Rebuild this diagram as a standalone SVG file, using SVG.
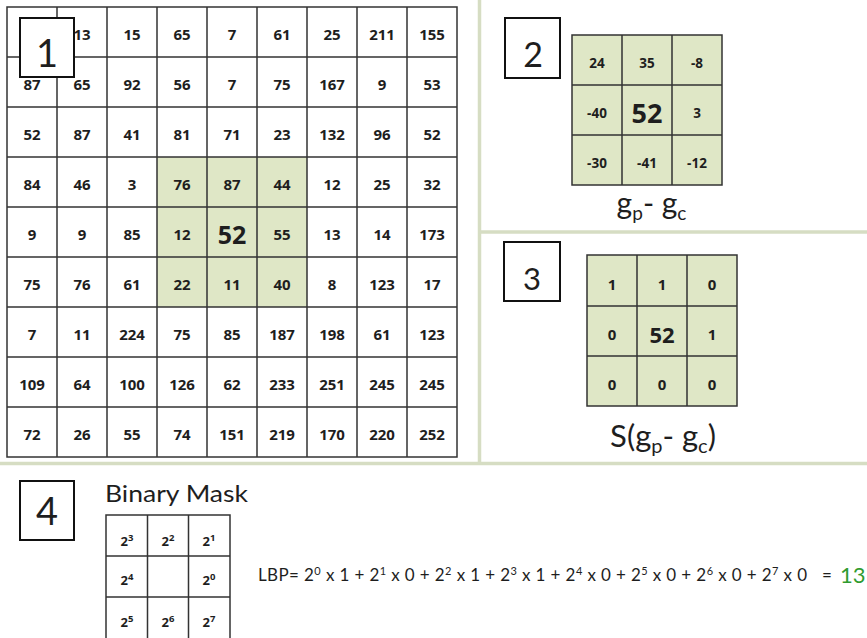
<svg xmlns="http://www.w3.org/2000/svg" width="867" height="638" viewBox="0 0 867 638">
<style>
text{font-family:Lato,"Open Sans","Liberation Sans",sans-serif;fill:#1e1e1e}
.n,.n2,.n3,.m,.big{font-family:"Open Sans",Lato,"Liberation Sans",sans-serif;font-weight:bold;text-anchor:middle}
.n{font-size:15px}
.n2{font-size:13.5px}
.n3{font-size:15px}
.m{font-size:13px}
.g{stroke:#333;stroke-width:1.5;fill:none}
.box{fill:#fff;stroke:#111;stroke-width:2}
.lbl{font-size:38px;text-anchor:middle}
.sep{stroke:#d6ddc3;stroke-width:3.5}
.sup{font-size:9.5px}
</style>
<rect width="867" height="638" fill="#fff"/>
<g id="separators">
<line class="sep" x1="479.5" y1="0" x2="479.5" y2="463"/>
<line class="sep" x1="0" y1="463.5" x2="867" y2="463.5"/>
<line class="sep" x1="479.5" y1="232" x2="867" y2="232"/>
</g>
<g id="panel1">
<rect x="157" y="157" width="150" height="150" fill="#dfe7c6"/>
<rect class="g" x="7" y="7" width="450" height="450"/>
<path class="g" d="M57 7V457M107 7V457M157 7V457M207 7V457M257 7V457M307 7V457M357 7V457M407 7V457M7 57H457M7 107H457M7 157H457M7 207H457M7 257H457M7 307H457M7 357H457M7 407H457"/>
<g>
<text class="n" x="82" y="39.5">13</text><text class="n" x="132" y="39.5">15</text><text class="n" x="182" y="39.5">65</text><text class="n" x="232" y="39.5">7</text><text class="n" x="282" y="39.5">61</text><text class="n" x="332" y="39.5">25</text><text class="n" x="382" y="39.5">211</text><text class="n" x="432" y="39.5">155</text>
<text class="n" x="32" y="89.5">87</text><text class="n" x="82" y="89.5">65</text><text class="n" x="132" y="89.5">92</text><text class="n" x="182" y="89.5">56</text><text class="n" x="232" y="89.5">7</text><text class="n" x="282" y="89.5">75</text><text class="n" x="332" y="89.5">167</text><text class="n" x="382" y="89.5">9</text><text class="n" x="432" y="89.5">53</text>
<text class="n" x="32" y="139.5">52</text><text class="n" x="82" y="139.5">87</text><text class="n" x="132" y="139.5">41</text><text class="n" x="182" y="139.5">81</text><text class="n" x="232" y="139.5">71</text><text class="n" x="282" y="139.5">23</text><text class="n" x="332" y="139.5">132</text><text class="n" x="382" y="139.5">96</text><text class="n" x="432" y="139.5">52</text>
<text class="n" x="32" y="189.5">84</text><text class="n" x="82" y="189.5">46</text><text class="n" x="132" y="189.5">3</text><text class="n" x="182" y="189.5">76</text><text class="n" x="232" y="189.5">87</text><text class="n" x="282" y="189.5">44</text><text class="n" x="332" y="189.5">12</text><text class="n" x="382" y="189.5">25</text><text class="n" x="432" y="189.5">32</text>
<text class="n" x="32" y="239.5">9</text><text class="n" x="82" y="239.5">9</text><text class="n" x="132" y="239.5">85</text><text class="n" x="182" y="239.5">12</text><text class="big" x="232" y="244" font-size="25">52</text><text class="n" x="282" y="239.5">55</text><text class="n" x="332" y="239.5">13</text><text class="n" x="382" y="239.5">14</text><text class="n" x="432" y="239.5">173</text>
<text class="n" x="32" y="289.5">75</text><text class="n" x="82" y="289.5">76</text><text class="n" x="132" y="289.5">61</text><text class="n" x="182" y="289.5">22</text><text class="n" x="232" y="289.5">11</text><text class="n" x="282" y="289.5">40</text><text class="n" x="332" y="289.5">8</text><text class="n" x="382" y="289.5">123</text><text class="n" x="432" y="289.5">17</text>
<text class="n" x="32" y="339.5">7</text><text class="n" x="82" y="339.5">11</text><text class="n" x="132" y="339.5">224</text><text class="n" x="182" y="339.5">75</text><text class="n" x="232" y="339.5">85</text><text class="n" x="282" y="339.5">187</text><text class="n" x="332" y="339.5">198</text><text class="n" x="382" y="339.5">61</text><text class="n" x="432" y="339.5">123</text>
<text class="n" x="32" y="389.5">109</text><text class="n" x="82" y="389.5">64</text><text class="n" x="132" y="389.5">100</text><text class="n" x="182" y="389.5">126</text><text class="n" x="232" y="389.5">62</text><text class="n" x="282" y="389.5">233</text><text class="n" x="332" y="389.5">251</text><text class="n" x="382" y="389.5">245</text><text class="n" x="432" y="389.5">245</text>
<text class="n" x="32" y="439.5">72</text><text class="n" x="82" y="439.5">26</text><text class="n" x="132" y="439.5">55</text><text class="n" x="182" y="439.5">74</text><text class="n" x="232" y="439.5">151</text><text class="n" x="282" y="439.5">219</text><text class="n" x="332" y="439.5">170</text><text class="n" x="382" y="439.5">220</text><text class="n" x="432" y="439.5">252</text>
</g>
<rect class="box" x="20" y="18" width="54" height="59"/>
<text class="lbl" x="47" y="67" font-size="40">1</text>
</g>
<g id="panel2">
<rect class="box" x="505" y="18" width="55" height="60"/>
<text class="lbl" x="533" y="67" style="font-size:34px">2</text>
<rect x="572" y="35" width="150" height="150" fill="#dfe7c6"/>
<rect class="g" x="572" y="35" width="150" height="150"/>
<path class="g" d="M622 35V185M672 35V185M572 85H722M572 135H722"/>
<text class="n2" x="597" y="68">24</text><text class="n2" x="647" y="68">35</text><text class="n2" x="697" y="68">-8</text>
<text class="n2" x="597" y="118">-40</text><text class="big" x="647" y="123" font-size="27">52</text><text class="n2" x="697" y="118">3</text>
<text class="n2" x="597" y="168">-30</text><text class="n2" x="647" y="168">-41</text><text class="n2" x="697" y="168">-12</text>
<text x="651.5" y="214" font-size="30" text-anchor="middle">g<tspan font-size="19" dy="6">p</tspan><tspan dy="-6">- g</tspan><tspan font-size="19" dy="6">c</tspan></text>
</g>
<g id="panel3">
<rect class="box" x="504" y="242" width="56" height="59"/>
<text class="lbl" x="532" y="290" style="font-size:31px">3</text>
<rect x="587" y="255" width="150" height="151" fill="#dfe7c6"/>
<rect class="g" x="587" y="255" width="150" height="151"/>
<path class="g" d="M637 255V406M687 255V406M587 306H737M587 356H737"/>
<text class="n3" x="612" y="290">1</text><text class="n3" x="662" y="290">1</text><text class="n3" x="712" y="290">0</text>
<text class="n3" x="612" y="340">0</text><text class="big" x="662" y="343" font-size="22">52</text><text class="n3" x="712" y="340">1</text>
<text class="n3" x="612" y="390">0</text><text class="n3" x="662" y="390">0</text><text class="n3" x="712" y="390">0</text>
<text x="663" y="447" font-size="31" text-anchor="middle">S(g<tspan font-size="20" dy="6">p</tspan><tspan dy="-6">- g</tspan><tspan font-size="20" dy="6">c</tspan><tspan dy="-6">)</tspan></text>
</g>
<g id="panel4">
<rect class="box" x="20" y="481" width="54" height="59"/>
<text class="lbl" x="47" y="525">4</text>
<text x="105" y="502" font-size="24" textLength="143" lengthAdjust="spacingAndGlyphs">Binary Mask</text>
<rect class="g" x="106" y="515" width="124" height="130"/>
<path class="g" d="M147.5 515V645M188.5 515V645M106 556H230M106 597H230"/>
<text class="m" x="127" y="546">2<tspan class="sup" dy="-5">3</tspan></text>
<text class="m" x="168" y="546">2<tspan class="sup" dy="-5">2</tspan></text>
<text class="m" x="209" y="546">2<tspan class="sup" dy="-5">1</tspan></text>
<text class="m" x="127" y="585">2<tspan class="sup" dy="-5">4</tspan></text>
<text class="m" x="209" y="585">2<tspan class="sup" dy="-5">0</tspan></text>
<text class="m" x="127" y="627">2<tspan class="sup" dy="-5">5</tspan></text>
<text class="m" x="168" y="627">2<tspan class="sup" dy="-5">6</tspan></text>
<text class="m" x="209" y="627">2<tspan class="sup" dy="-5">7</tspan></text>
<text x="258" y="581" font-size="17" textLength="549" lengthAdjust="spacing">LBP= 2<tspan font-size="11" dy="-6">0</tspan><tspan dy="6"> x 1 + 2</tspan><tspan font-size="11" dy="-6">1</tspan><tspan dy="6"> x 0 + 2</tspan><tspan font-size="11" dy="-6">2</tspan><tspan dy="6"> x 1 + 2</tspan><tspan font-size="11" dy="-6">3</tspan><tspan dy="6"> x 1 + 2</tspan><tspan font-size="11" dy="-6">4</tspan><tspan dy="6"> x 0 + 2</tspan><tspan font-size="11" dy="-6">5</tspan><tspan dy="6"> x 0 + 2</tspan><tspan font-size="11" dy="-6">6</tspan><tspan dy="6"> x 0 + 2</tspan><tspan font-size="11" dy="-6">7</tspan><tspan dy="6"> x 0</tspan></text>
<text x="822" y="581" font-size="17">=</text>
<text x="840" y="583" font-size="22" style="fill:#2f9b2f">13</text>
</g>
</svg>
